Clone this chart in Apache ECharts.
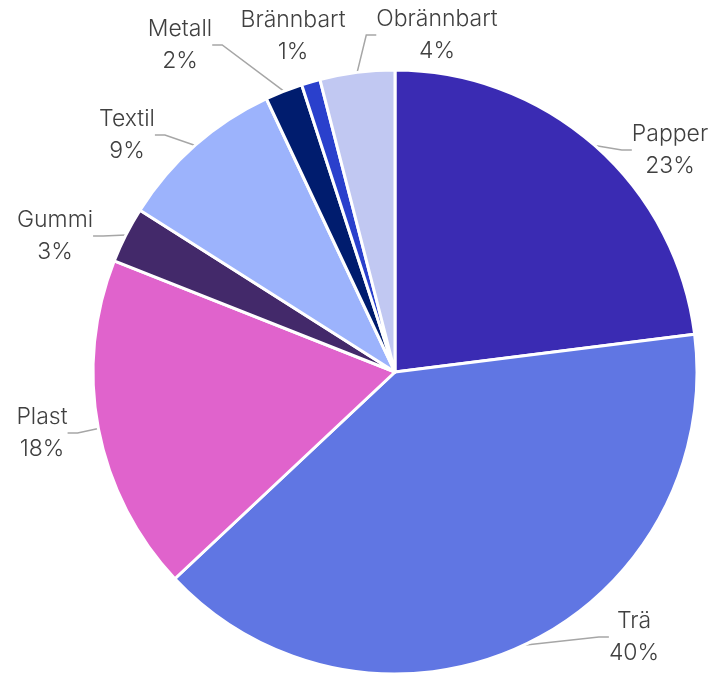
<!DOCTYPE html>
<html>
<head>
<meta charset="utf-8">
<script src="https://cdn.jsdelivr.net/npm/echarts@6/dist/echarts.min.js"></script>
<style>html,body{margin:0;padding:0;background:#fff}#c{width:718px;height:676px}</style>
</head>
<body>
<div id="c"></div>
<script>
const categories = ['Papper', 'Trä', 'Plast', 'Gummi', 'Textil', 'Metall', 'Brännbart', 'Obrännbart'];
const values = [23, 40, 18, 3, 9, 2, 1, 4];
const colors = ['#3A2BB3', '#6076E3', '#E063CC', '#43296A', '#9CB3FC', '#001C6E', '#2A40CC', '#C1C8F2'];

// label placement (centre of each two-line label block), layout only
const labelPlacement = {
  'Papper': [670, 150], 'Trä': [634, 637], 'Plast': [42, 433], 'Gummi': [55, 236],
  'Textil': [127, 135], 'Metall': [180, 45], 'Brännbart': [293, 36], 'Obrännbart': [437, 35]
};
const hiddenLines = ['Brännbart'];

const chart = echarts.init(document.getElementById('c'), null, {renderer: 'canvas'});
chart.setOption({
  animation: false,
  backgroundColor: '#fff',
  series: [{
    type: 'pie',
    center: [395, 372],
    radius: 302,
    startAngle: 90,
    clockwise: true,
    avoidLabelOverlap: false,
    data: categories.map((n, i) => ({
      name: n, value: values[i], itemStyle: {color: colors[i]},
      labelLine: {show: hiddenLines.indexOf(n) < 0}
    })),
    itemStyle: {borderColor: '#fff', borderWidth: 3},
    label: {
      show: true,
      position: 'outside',
      overflow: 'none',
      formatter: p => '{a|' + p.name + '}\n{a|' + p.value + '%}',
      color: '#404040',
      fontFamily: 'Inter',
      fontSize: 23,
      fontWeight: 300,
      lineHeight: 32,
      rich: {a: {align: 'center', fontFamily: 'Inter', fontSize: 23, fontWeight: 300, lineHeight: 32, color: '#404040'}}
    },
    labelLine: {show: true, length: 8, length2: 10, lineStyle: {color: '#A6A6A6', width: 1.5}},
    labelLayout: p => {
      const pos = labelPlacement[categories[p.dataIndex]];
      return {x: pos[0], y: pos[1], align: 'center', verticalAlign: 'middle'};
    }
  }]
});
</script>
</body>
</html>
